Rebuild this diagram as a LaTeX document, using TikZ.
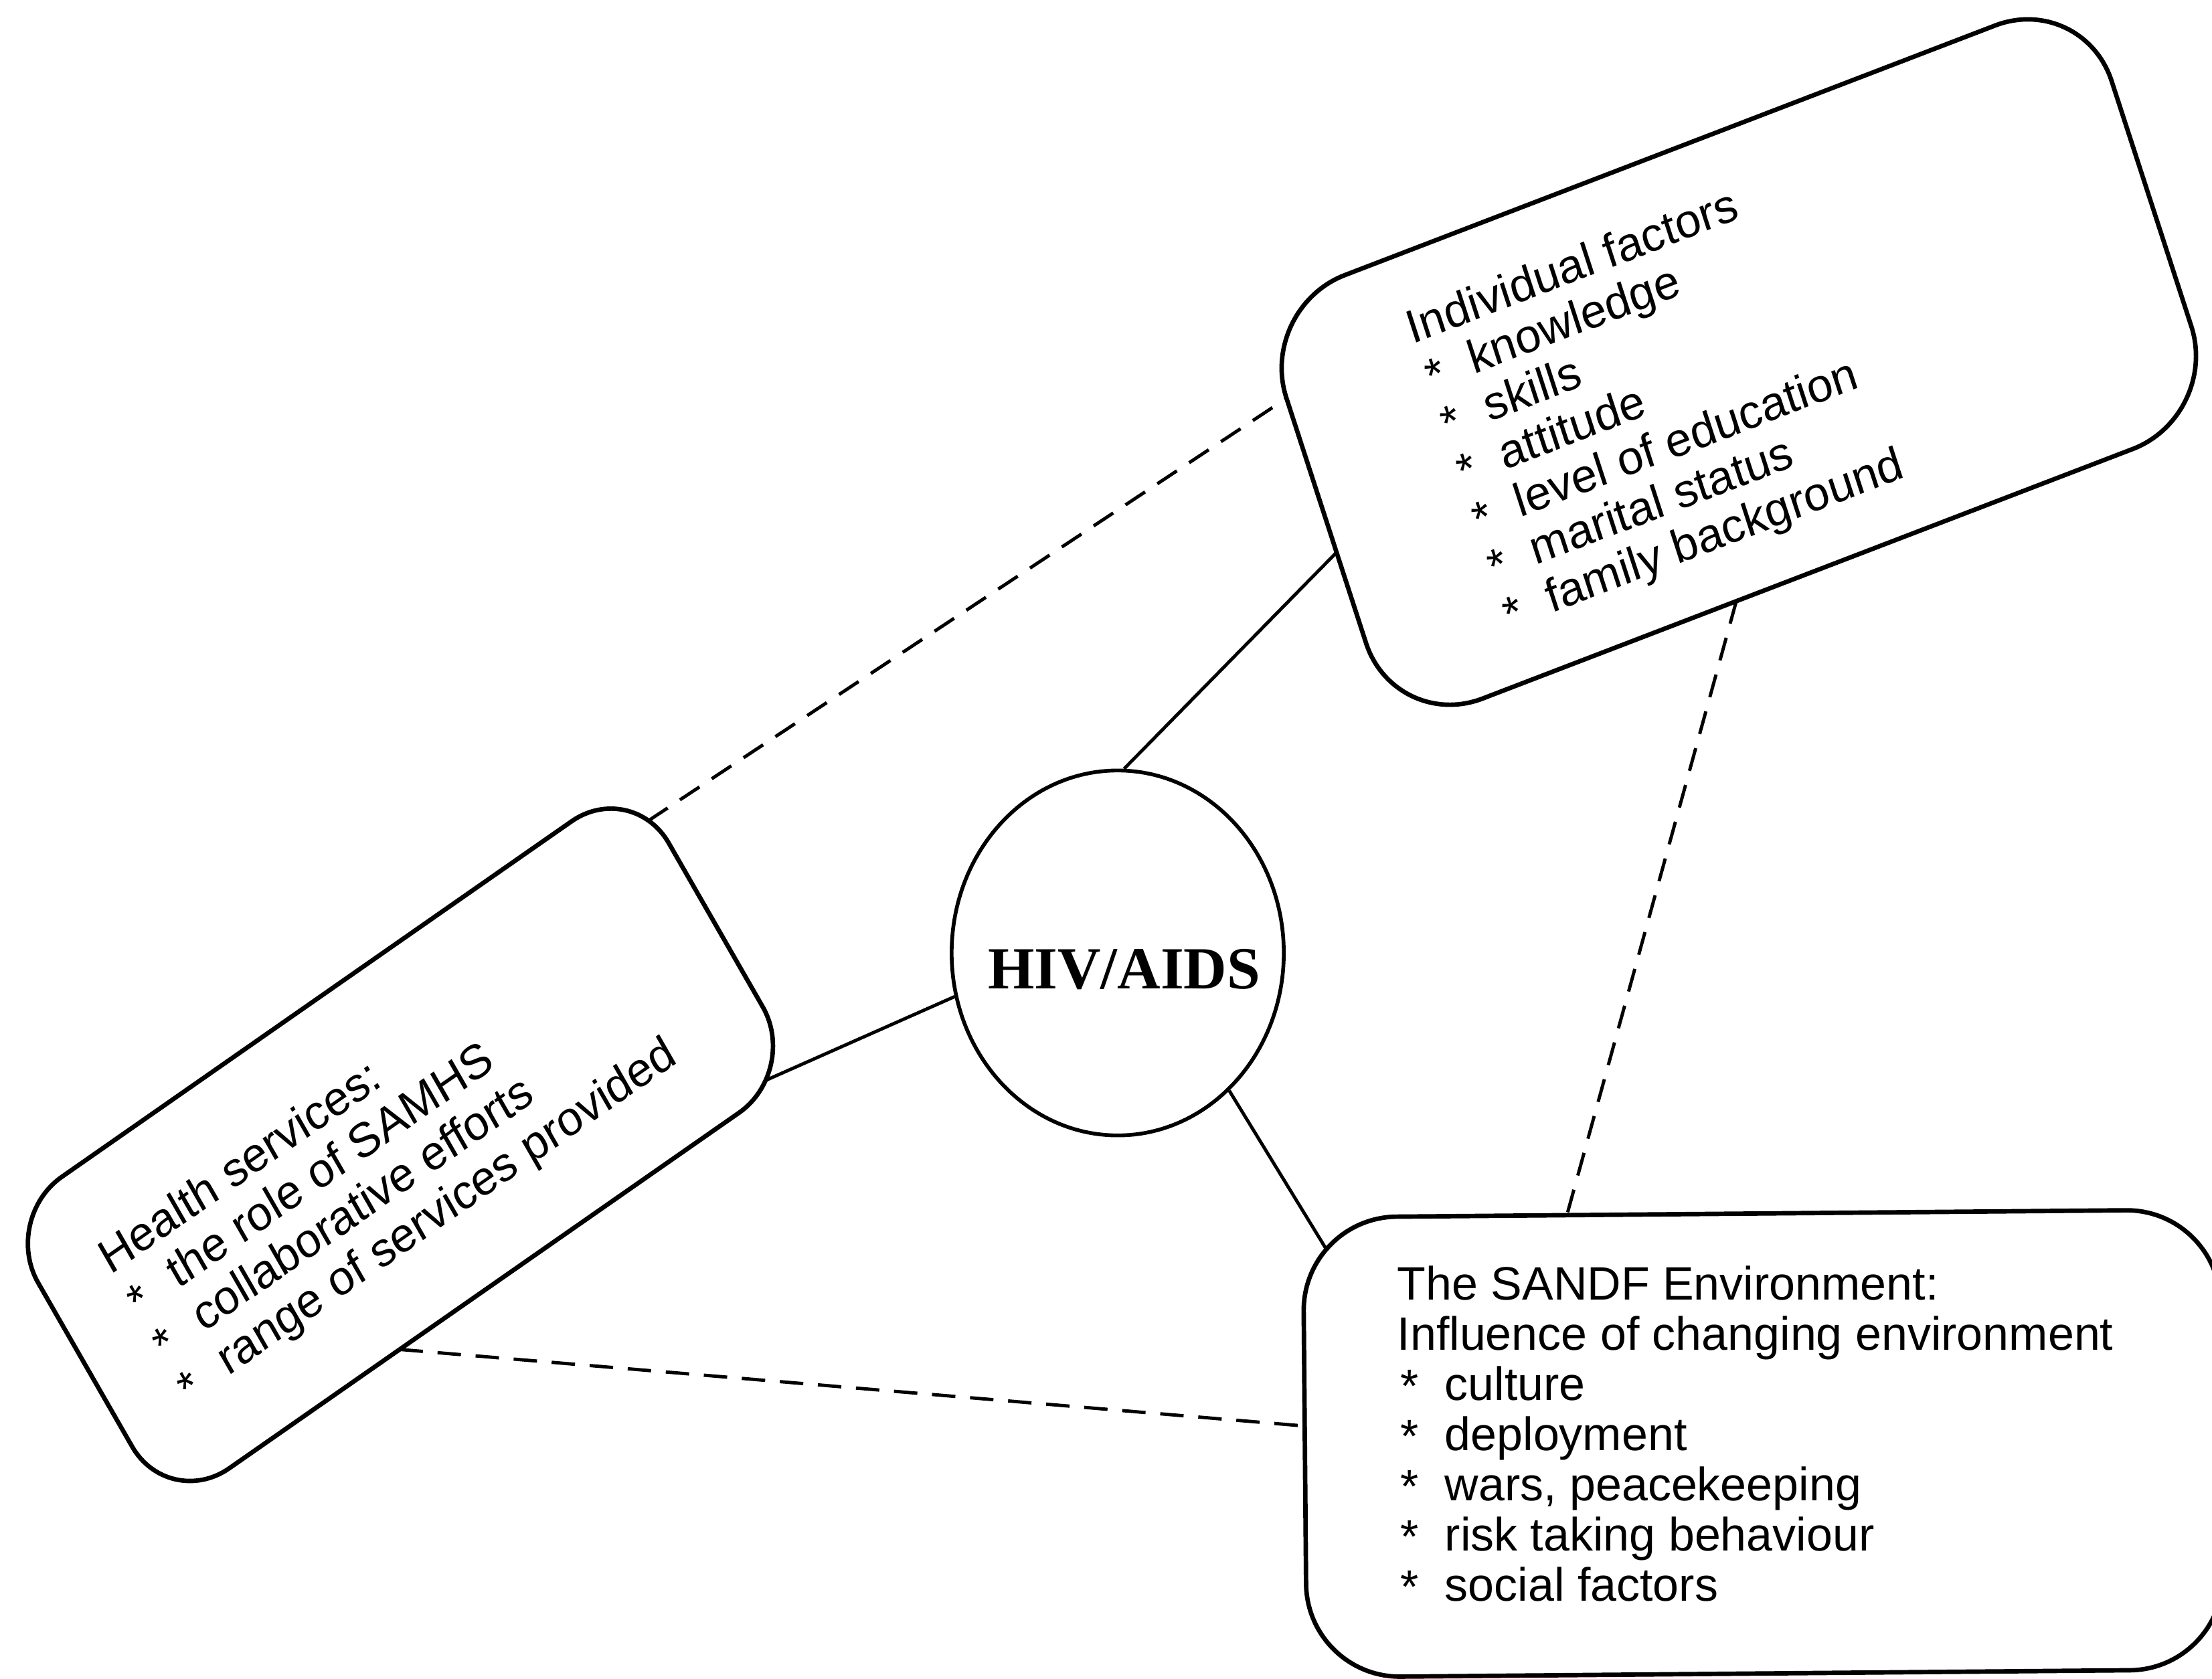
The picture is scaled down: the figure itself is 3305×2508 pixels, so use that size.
\documentclass[tikz,border=0pt]{standalone}
\usepackage{fontspec}
\setmainfont{Liberation Sans}
\newfontfamily\hivfont{Liberation Serif}
\usetikzlibrary{shapes.geometric}
\newcommand{\itemstar}[1]{\makebox[#1][l]{\hspace{0.05cm}\raisebox{-0.05em}{*}}}
\begin{document}
\begin{tikzpicture}[x=0.01cm,y=-0.01cm,
  frame/.style={draw=black, line width=1.9pt, rectangle, inner sep=0pt, transform shape},
  hivshape/.style={draw=black, ellipse, line width=1.6pt, inner sep=0pt, minimum width=4.96cm, minimum height=5.45cm},
  solidlink/.style={draw=black, line width=1.4pt},
  dashlink/.style={draw=black, line width=1.4pt, dash pattern=on 0.35cm off 0.22cm},
  txt/.style={anchor=base west, inner sep=0pt, transform shape, font=\fontsize{19.9pt}{21.34pt}\selectfont},
]
\useasboundingbox (0,0) rectangle (3305,2508);
\clip (0,0) rectangle (3305,2508);

% Individual factors box
\begin{scope}[shift={(2598,541)}, cm={0.9336,0.3584,-0.3090,0.9511,(0,0)}]
  \node[frame, rounded corners=1.4cm, minimum width=13.2cm, minimum height=6.65cm] (ind) at (0,0) {};
  \node[txt] (indtext) at (-456.4,-200) {\begin{tabular}[t]{@{}l@{}}
    Individual factors\\
    \itemstar{0.73cm}knowledge\\
    \itemstar{0.73cm}skills\\
    \itemstar{0.73cm}attitude\\
    \itemstar{0.73cm}level of education\\
    \itemstar{0.73cm}marital status\\
    \itemstar{0.73cm}family background
  \end{tabular}};
  \coordinate (ind-hs) at (-660,-192);
  \coordinate (ind-hiv) at (-660,50);
  \coordinate (ind-env) at (-114,332.5);
\end{scope}

% Health services box
\begin{scope}[shift={(598.3,1710.7)}, cm={0.8202,0.5721,-0.4977,0.8673,(0,0)}]
  \node[frame, rounded corners=1.1cm, minimum width=11.48cm, minimum height=5.02cm] (hs) at (0,0) {};
  \node[txt] (hstext) at (-475,-88) {\begin{tabular}[t]{@{}l@{}}
    Health services:\\
    \itemstar{0.78cm}the role of SAMHS\\
    \itemstar{0.78cm}collaborative efforts\\
    \itemstar{0.78cm}range of services provided
  \end{tabular}};
  \coordinate (hs-ind) at (564,-186);
  \coordinate (hs-hiv) at (522.5,234);
  \coordinate (hs-env) at (-154,251);
\end{scope}

% SANDF environment box
\begin{scope}[shift={(2634.5,2157)}, rotate=0.5]
  \node[frame, rounded corners=1.4cm, minimum width=13.69cm, minimum height=6.87cm] (env) at (0,0) {};
  \coordinate (env-ind) at (-290.5,-343.5);
  \coordinate (env-hs) at (-684.5,-32);
  \coordinate (env-hiv) at (-650.1,-295.6);
\end{scope}
\node[txt] (envtext) at (2087,1942) {\begin{tabular}[t]{@{}l@{}}
    The SANDF Environment:\\
    Influence of changing environment\\
    \itemstar{0.71cm}culture\\
    \itemstar{0.71cm}deployment\\
    \itemstar{0.71cm}wars, peacekeeping\\
    \itemstar{0.71cm}risk taking behaviour\\
    \itemstar{0.71cm}social factors
  \end{tabular}};

% central HIV/AIDS ellipse
\node[hivshape] (hiv) at (1670,1424) {};
\node[anchor=base, inner sep=0pt, font=\hivfont\bfseries\fontsize{25.4pt}{30pt}\selectfont] (hivlabel) at (1679.5,1477) {HIV/AIDS};

% connectors
\draw[solidlink] (hiv.88) -- (ind-hiv);
\draw[solidlink] (hs-hiv) -- (hiv.195);
\draw[solidlink] (hiv.309) -- (env-hiv);
\draw[dashlink] (hs-ind) -- (ind-hs);
\draw[dashlink] (ind-env) -- (env-ind);
\draw[dashlink] (hs-env) -- (env-hs);
\end{tikzpicture}
\end{document}
